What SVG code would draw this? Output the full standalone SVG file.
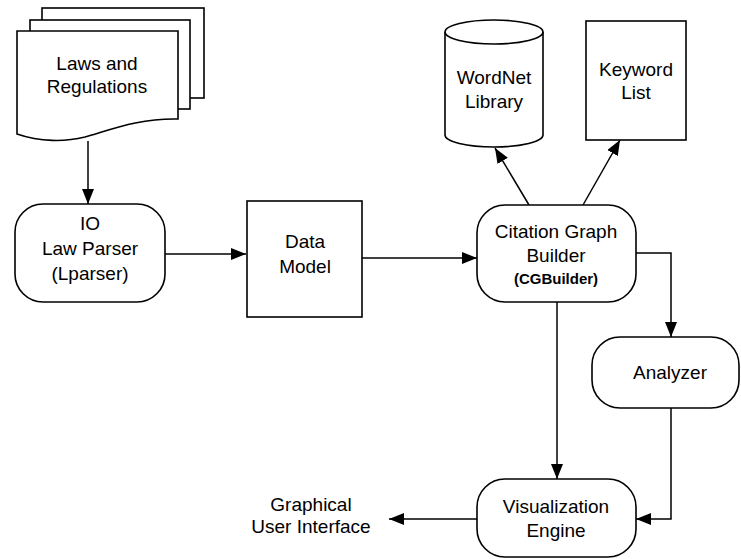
<svg xmlns="http://www.w3.org/2000/svg" width="741" height="559" viewBox="0 0 741 559">
  <defs>
    <marker id="arrow" viewBox="0 0 15 12" refX="15" refY="6" markerWidth="15" markerHeight="12" markerUnits="userSpaceOnUse" orient="auto">
      <path d="M0,0 L15,6 L0,12 Z" fill="#000"/>
    </marker>
    <style>
      .shape { fill: #fff; stroke: #000; stroke-width: 1.6; }
      .conn { fill: none; stroke: #000; stroke-width: 1.5; marker-end: url(#arrow); }
      text { font-family: "Liberation Sans", Arial, sans-serif; font-size: 19px; fill: #000; text-anchor: middle; }
      .bold { font-weight: bold; font-size: 15px; }
    </style>
  </defs>
  <rect width="741" height="559" fill="#fff"/>

  <!-- connectors -->
  <g id="connectors">
    <path class="conn" d="M88,141 V204"/>
    <path class="conn" d="M165,254 H246"/>
    <path class="conn" d="M362,258 H477"/>
    <path class="conn" d="M529,205 L495,148"/>
    <path class="conn" d="M583,205 L620,140"/>
    <path class="conn" d="M636,253 H671 V337"/>
    <path class="conn" d="M557,302 V479"/>
    <path class="conn" d="M671,408 V519 H636"/>
    <path class="conn" d="M477,519 H389"/>
  </g>

  <!-- document stack -->
  <g id="laws">
    <rect class="shape" x="42" y="8" width="162" height="90"/>
    <rect class="shape" x="30" y="20" width="160" height="89"/>
    <path class="shape" d="M17,31 H178 V119 C140,118 110,130 85,137 C65,142 40,142 17,134 Z"/>
    <text x="97" y="70">Laws and</text>
    <text x="97" y="93">Regulations</text>
  </g>

  <g id="lparser">
    <rect class="shape" x="15" y="204" width="150" height="98" rx="28" ry="28"/>
    <text x="90" y="230">IO</text>
    <text x="90" y="255">Law Parser</text>
    <text x="90" y="280">(Lparser)</text>
  </g>

  <g id="datamodel">
    <rect class="shape" x="247" y="201" width="115" height="116"/>
    <text x="305" y="248">Data</text>
    <text x="305" y="273">Model</text>
  </g>

  <g id="cgbuilder">
    <rect class="shape" x="477" y="205" width="159" height="97" rx="28" ry="28"/>
    <text x="556" y="238">Citation Graph</text>
    <text x="556" y="262">Builder</text>
    <text class="bold" x="556" y="284">(CGBuilder)</text>
  </g>

  <g id="wordnet">
    <path class="shape" d="M445,32 V135 A49,12 0 0 0 543,135 V32 A49,12 0 0 0 445,32 Z"/>
    <path class="shape" d="M445,32 A49,12 0 0 0 543,32" fill="none"/>
    <text x="494" y="84">WordNet</text>
    <text x="494" y="108">Library</text>
  </g>

  <g id="keyword">
    <rect class="shape" x="586" y="21" width="100" height="119"/>
    <text x="636" y="76">Keyword</text>
    <text x="636" y="99">List</text>
  </g>

  <g id="analyzer">
    <rect class="shape" x="592" y="337" width="147" height="71" rx="28" ry="28"/>
    <text x="670" y="379">Analyzer</text>
  </g>

  <g id="visualization">
    <rect class="shape" x="477" y="479" width="159" height="78" rx="28" ry="28"/>
    <text x="556" y="513">Visualization</text>
    <text x="556" y="537">Engine</text>
  </g>

  <g id="gui">
    <text x="311" y="511">Graphical</text>
    <text x="311" y="533">User Interface</text>
  </g>
</svg>
